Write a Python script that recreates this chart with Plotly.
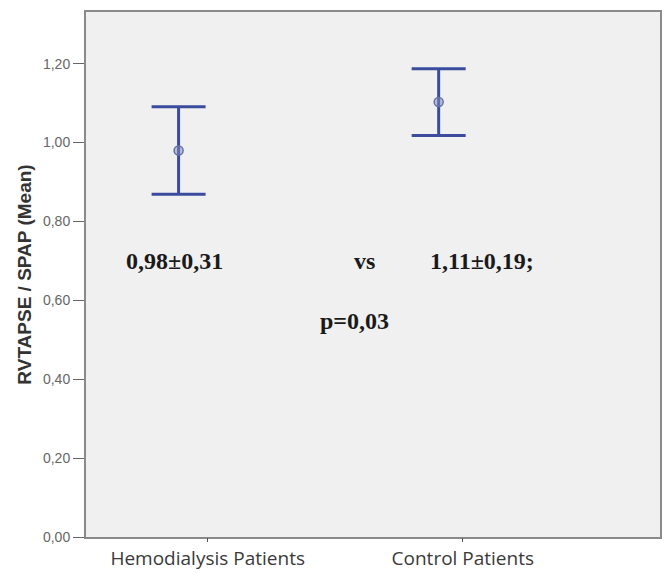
import plotly.graph_objects as go

groups = ["Hemodialysis Patients", "Control Patients"]
means = [0.98, 1.103]
upper = [1.091, 1.187]
lower = [0.869, 1.018]
yticks = [0.0, 0.2, 0.4, 0.6, 0.8, 1.0, 1.2]

err_plus = [u - m for u, m in zip(upper, means)]
err_minus = [m - l for m, l in zip(means, lower)]

fig = go.Figure()
fig.add_trace(go.Scatter(
    x=groups, y=means, mode="markers",
    marker=dict(size=9, color="rgba(130,140,185,0.5)",
                line=dict(color="#6570a8", width=1.5)),
    error_y=dict(type="data", symmetric=False, array=err_plus, arrayminus=err_minus,
                 color="#3b4c9e", thickness=3, width=27),
    showlegend=False, hoverinfo="skip"))
# invisible trace carrying the category tick axis
fig.add_trace(go.Scatter(x=groups, y=means, xaxis="x2", mode="markers",
                         marker=dict(opacity=0), showlegend=False, hoverinfo="skip"))

annots = [
    dict(x=-0.015, y=0.70, text="0,98±0,31"),
    dict(x=0.713, y=0.70, text="vs"),
    dict(x=1.165, y=0.70, text="1,11±0,19;"),
    dict(x=0.675, y=0.548, text="p=0,03"),
]
for a in annots:
    fig.add_annotation(x=a["x"], y=a["y"], text="<b>" + a["text"] + "</b>", showarrow=False,
                       xref="x", yref="y",
                       font=dict(family="Liberation Serif", size=24, color="#1a1a1a"),
                       xanchor="center", yanchor="middle")

fig.update_layout(
    width=665, height=574,
    margin=dict(l=86, r=3, t=12, b=36),
    paper_bgcolor="white", plot_bgcolor="#f0f0f0",
    separators=",.",
    xaxis=dict(type="category", categoryorder="array", categoryarray=groups,
               range=[-0.356, 1.851], showticklabels=False, ticks="",
               showgrid=False, zeroline=False,
               showline=True, linecolor="#8a8a8a", linewidth=2, mirror=True),
    xaxis2=dict(type="category", categoryorder="array", categoryarray=groups,
                range=[-0.477, 1.773], overlaying="x", side="bottom",
                showgrid=False, zeroline=False, showline=False,
                ticks="outside", ticklen=4, tickcolor="#555",
                tickfont=dict(family="Open Sans", size=19, color="#3a3a3a")),
    yaxis=dict(range=[0, 1.331], tickvals=yticks, tickformat=".2f",
               ticks="outside", ticklen=11, tickcolor="#666",
               tickfont=dict(family="Liberation Sans", size=14, color="#666"),
               showgrid=False, zeroline=False,
               showline=True, linecolor="#8a8a8a", linewidth=2, mirror=True,
               title=dict(text="<b>RVTAPSE / SPAP (Mean)</b>", standoff=6,
                          font=dict(family="Liberation Sans", size=19, color="#333"))),
)
fig.write_html("out.html")
